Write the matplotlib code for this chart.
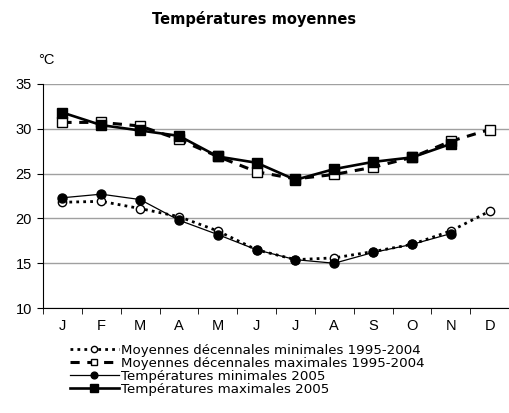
import numpy as np
import matplotlib.pyplot as plt

months = ["J", "F", "M", "A", "M", "J", "J", "A", "S", "O", "N", "D"]
min_dec = [21.8, 21.9, 21.1, 20.2, 18.6, 16.5, 15.4, 15.6, 16.3, 17.1, 18.6, 20.8]
max_dec = [30.7, 30.7, 30.3, 28.8, 26.9, 25.2, 24.4, 24.9, 25.7, 26.8, 28.6, 29.9]
min_2005 = [22.3, 22.7, 22.1, 19.8, 18.2, 16.5, 15.4, 15.0, 16.2, 17.1, 18.3]
max_2005 = [31.8, 30.4, 29.8, 29.2, 26.9, 26.2, 24.3, 25.5, 26.3, 26.8, 28.3]

plt.rcParams['font.family'] = ['Liberation Sans', 'DejaVu Sans']

fig = plt.figure(figsize=(5.09, 4.13), dpi=100)
ax = fig.add_axes([0.0845, 0.254, 0.9155, 0.543])

x = np.arange(12)
ax.plot(x, min_dec, color="black", lw=2, linestyle=(0, (1, 1.5)),
        marker="o", mfc="white", mec="black", ms=6, mew=1,
        label="Moyennes décennales minimales 1995-2004")
ax.plot(x, max_dec, color="black", lw=2.2, linestyle=(0, (3, 2.5)),
        marker="s", mfc="white", mec="black", ms=6.5, mew=1,
        label="Moyennes décennales maximales 1995-2004")
ax.plot(x[:11], min_2005, color="black", lw=0.9, marker="o", ms=6.5,
        label="Températures minimales 2005")
ax.plot(x[:11], max_2005, color="black", lw=1.9, marker="s", ms=7,
        label="Températures maximales 2005")

ax.set_ylim(10, 35)
ax.set_yticks([10, 15, 20, 25, 30, 35])
ax.set_xlim(-0.5, 11.39)
ax.set_xticks(x)
ax.set_xticklabels(months)
ax.set_xticks(np.arange(-0.5, 12, 1), minor=True)
ax.tick_params(axis="x", which="major", length=0, pad=8, labelsize=10.5)
ax.tick_params(axis="x", which="minor", length=4, direction="out")
ax.tick_params(axis="y", length=4, labelsize=10.5, pad=4)
ax.grid(axis="y", color="#a0a0a0", lw=1)
ax.set_axisbelow(True)
for s in ["top", "right"]:
    ax.spines[s].set_visible(False)

fig.text(0.5, 0.955, "Températures moyennes", ha="center", va="center",
         fontsize=10.5, fontweight="bold", family="DejaVu Sans")
fig.text(0.075, 0.855, "°C", ha="left", va="center", fontsize=10.5)

fig.legend(loc="upper left", bbox_to_anchor=(0.137, 0.168), frameon=False,
           prop={"family": "DejaVu Sans", "size": 9.6},
           handlelength=3.7, handletextpad=0.15,
           labelspacing=0.0, borderpad=0, borderaxespad=0, markerscale=0.75)

fig.savefig("out.png", dpi=100)
